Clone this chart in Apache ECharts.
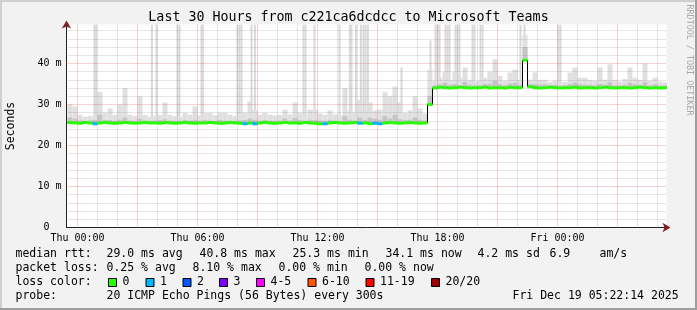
<!DOCTYPE html>
<html><head><meta charset="utf-8">
<script src="https://cdn.jsdelivr.net/npm/echarts@6/dist/echarts.min.js"></script>
<style>html,body{margin:0;padding:0;background:#f2f2f2}#c{width:697px;height:310px}</style>
</head><body><div id="c"></div><script>
// ---- data (hours relative to Thu 00:00) ----
const startHour = -0.5;
const binHours = 0.25;
const endHour = 29.45;
const median = [
 25.6,25.5,25.4,25.6,25.5,25.3,25.5,25.6,25.5,25.4,25.5,25.6,
 25.5,25.4,25.5,25.6,25.5,25.5,25.4,25.6,25.5,25.4,25.5,25.6,
 25.5,25.4,25.5,25.5,25.6,25.5,25.4,25.5,25.6,25.5,25.4,25.3,
 25.5,25.3,25.5,25.6,25.5,25.4,25.5,25.6,25.5,25.5,25.4,25.6,
 25.5,25.4,25.3,25.3,25.5,25.6,25.5,25.4,25.5,25.6,25.4,25.5,
 25.3,25.4,25.3,25.5,25.6,25.5,25.4,25.5,25.6,25.5,25.4,25.5,
 30.0,34.0,34.2,34.1,34.0,34.1,34.2,34.1,34.0,34.1,34.1,34.2,
 34.0,34.1,34.1,34.0,34.2,34.1,34.1,40.8,34.3,34.1,34.0,34.1,
 34.2,34.1,34.0,34.1,34.1,34.2,34.0,34.1,34.1,34.0,34.1,34.2,
 34.1,34.0,34.1,34.1,34.0,34.1,34.2,34.1,34.0,34.1,34.0,34.1
];
const lossCount = [
 0,0,0,0,0,1,0,0,0,0,0,0,
 0,0,0,0,0,0,0,0,0,0,0,0,
 0,0,0,0,0,0,0,0,0,0,0,1,
 0,1,0,0,0,0,0,0,0,0,0,0,
 0,0,0,1,0,0,0,0,0,0,1,0,
 0,1,1,0,0,0,0,0,0,0,0,0,
 0,0,0,0,0,0,0,0,0,0,0,0,
 0,0,0,0,0,0,0,0,0,0,0,0,
 0,0,0,0,0,0,0,0,0,0,0,0,
 0,0,0,0,0,0,0,0,0,0,0,0
];
const smokeMid = [
 26.8,26.5,26.1,26,26.1,26.2,27.5,26.2,26.2,26,26.3,26.8,
 26.1,26,26.5,26.1,26,26.1,26.2,26.4,26.1,26,26,26.2,
 26.1,26.3,26,26.2,26.1,26,26.2,26.1,26,26,26.1,26.2,
 26.6,26.3,26,26.2,26.1,26,26.1,26.6,26.1,26.7,26.2,26,
 26.3,26.2,26.1,26,26.2,26.1,26,27.2,26.3,26.1,26.8,26.2,
 26.8,26.5,26.3,27.2,26.6,27.5,26.4,26.2,26.3,26.8,26.3,26.1,
 32,34.7,34.9,35.3,34.8,35,34.7,35.5,34.8,34.6,34.7,34.9,
 35,35.8,35,34.7,35.1,35.3,34.8,44,34.9,35,34.8,34.9,
 34.7,34.8,34.6,34.7,35,35.3,34.9,34.8,34.8,34.7,35,34.8,
 35.4,34.7,34.6,34.8,35.3,34.9,34.8,35.4,34.7,34.9,34.6,34.6
];
const smokeHigh = [
 30,29.5,27.5,27,27.2,27.5,33,28,29,27.5,30,34,
 27.5,27.2,32,27.5,27,27.3,27.5,30.5,27.5,27.2,27,28,
 27.5,29.5,27.3,28,28,27.4,28,28,27.5,27.2,27.6,28,
 30.7,28.5,27.5,28,27.5,27.3,27.5,28.8,27.6,30.5,28,27.5,
 28.8,28.8,27.8,27.5,28.5,27.6,27.4,34,28.4,28,31,28.5,
 30.5,28.5,28.8,33,32,34.4,30.5,28,28.5,32,29,27.8,
 38.5,35.8,36.5,38,36,38,36.5,39,36,35.6,35.8,36.5,
 38,41,37,35.8,37.8,38.5,36,47,36,37.8,36,36,
 35.5,35.8,35.6,35.5,37.8,39,36.5,36.5,36,35.8,39,36,
 39.8,36,35.6,36.2,39,36.5,36,40,35.8,36.5,35.6,35.4
];
// single tall smoke spikes: [hour, top ms]
const spikes = [
 [0.85,49.5],[0.93,49.5],[1.1,33],[2.35,34],[3.72,49.5],[3.95,49.5],[5.0,49.5],[5.1,49.5],
 [6.2,49.5],[6.27,49.5],[8.0,49.5],[8.1,49.5],[8.2,49.5],[8.7,49.5],[8.87,49.5],
 [11.3,49.5],[11.4,49.5],[11.85,49.5],[13.1,49.5],[13.62,49.5],[13.7,49.5],[13.92,49.5],
 [14.17,49.5],[14.3,49.5],[14.4,49.5],[14.52,49.5],[16.2,39],[17.65,45.6],
 [17.9,49.5],[18.0,49.5],[18.1,49.5],[18.4,49.5],[18.5,49.5],[18.6,49.5],
 [18.9,49.5],[19.0,49.5],[19.1,49.5],[19.75,49.5],[19.85,49.5],[20.15,49.5],[20.25,49.5],
 [22.15,49.5],[22.35,49.5],[24.05,49.5],[24.15,49.5]
];
const xTickHours = [0,6,12,18,24];
const xTickLabels = ['Thu 00:00','Thu 06:00','Thu 12:00','Thu 18:00','Fri 00:00'];
const yTickValues = [0,10,20,30,40];
const yMax = 49.5;
const lossColors = ['#26ff00','#00b8ff','#0059ff','#7e00ff','#ff00ff','#ff5500','#ff0000','#a10000'];
const lossLabels = ['0','1','2','3','4-5','6-10','11-19','20/20'];
const titleText = 'Last 30 Hours from c221ca6dcdcc to Microsoft Teams';
const rttStats = ['29.0 ms avg','40.8 ms max','25.3 ms min','34.1 ms now','4.2 ms sd','6.9','am/s'];
const lossStats = ['0.25 % avg','8.10 % max','0.00 % min','0.00 % now'];
const probeText = '20 ICMP Echo Pings (56 Bytes) every 300s';
const dateText = 'Fri Dec 19 05:22:14 2025';

// ---- build ----
const FONT = '"DejaVu Sans Mono", monospace';
const binStart = median.map((_, i) => startHour + i * binHours);
function lossColorIndex(n){ if(n<=3) return n; if(n<=5) return 4; if(n<=10) return 5; if(n<=19) return 6; return 7; }
const GRID_MINOR = 'rgba(143,143,143,0.45)';
const GRID_MAJOR = 'rgba(222,79,79,0.5)';
const gridMarks = [];
for (let h = 0; h <= 29; h++) gridMarks.push({xAxis: h, lineStyle: {color: h % 3 === 0 ? GRID_MAJOR : GRID_MINOR}});
for (let v = 2; v <= 48; v += 2) gridMarks.push({yAxis: v, lineStyle: {color: v % 10 === 0 ? GRID_MAJOR : GRID_MINOR}});

const chart = echarts.init(document.getElementById('c'), null, {renderer: 'canvas'});

const txt = (x, y, t, extra) => Object.assign({type: 'text', x: x, y: y, silent: true,
  style: {text: t, fontFamily: FONT, fontSize: 11.5, fill: '#000', verticalAlign: 'middle'}}, extra || {});

const graphics = [
  {type:'rect', shape:{x:0,y:0,width:697,height:2}, style:{fill:'#cfcfcf'}, silent:true},
  {type:'rect', shape:{x:0,y:0,width:2,height:310}, style:{fill:'#cfcfcf'}, silent:true},
  {type:'rect', shape:{x:0,y:308,width:697,height:2}, style:{fill:'#9e9e9e'}, silent:true},
  {type:'rect', shape:{x:695,y:0,width:2,height:310}, style:{fill:'#9e9e9e'}, silent:true},
  {type:'text', x: 689.5, y: 60, rotation: -Math.PI/2, silent:true,
   style:{text:'RRDTOOL / TOBI OETIKER', fontFamily: FONT, fontSize: 8.4, fill:'#a8a8a8', align:'center', verticalAlign:'middle'}},
  txt(15.5, 254.5, 'median rtt:'),
  txt(15.5, 268.5, 'packet loss:'),
  txt(15.5, 282.5, 'loss color:'),
  txt(15.5, 296.5, 'probe:'),
  txt(106.5, 296.5, probeText),
  txt(512.5, 296.5, dateText)
];
const rttX = [106.5, 199.5, 292.5, 385.5, 477.5, 549.5, 599.5];
rttStats.forEach((t, i) => graphics.push(txt(rttX[i], 254.5, t)));
const lossX = [106.5, 192.5, 278.5, 364.5];
lossStats.forEach((t, i) => graphics.push(txt(lossX[i], 268.5, t)));
const boxX = [108, 145.5, 182.5, 219, 256, 307.5, 365.5, 431];
lossLabels.forEach((t, i) => {
  graphics.push({type:'rect', silent:true, shape:{x: boxX[i] + 0.5, y: 278.5, width: 8, height: 8},
    style:{fill: lossColors[i], stroke:'#000', lineWidth:1}});
  graphics.push(txt(boxX[i] + 14.5, 282.5, t));
});

chart.setOption({
  animation: false,
  backgroundColor: '#f2f2f2',
  title: {text: titleText, left: 'center', top: 11.5, padding: 0,
    textStyle: {fontFamily: FONT, fontSize: 13.3, fontWeight: 'normal', color: '#000'}},
  grid: {left: 66.5, top: 24.5, width: 600, height: 203, show: true, backgroundColor: '#ffffff', borderWidth: 0,
    containLabel: false, outerBoundsMode: 'none'},
  xAxis: [{
    type: 'value', min: startHour - 0.05, max: endHour,
    axisLine: {show: true, onZero: false, lineStyle: {color: '#1f1f1f', width: 1}},
    axisTick: {show: false}, splitLine: {show: false},
    axisLabel: {customValues: xTickHours, margin: 6, fontFamily: FONT, fontSize: 10, color: '#000',
      formatter: v => xTickLabels[xTickHours.indexOf(v)] || ''}
  }, {
    type: 'value', min: startHour - 0.05, max: endHour, position: 'bottom', offset: 0,
    axisLine: {show: true, onZero: false, symbol: ['none','arrow'], symbolSize: [7, 8], symbolOffset: [0, 4], lineStyle: {color: '#801f1f', width: 0}},
    axisTick: {show: false}, axisLabel: {show: false}, splitLine: {show: false}
  }],
  yAxis: [{
    type: 'value', min: 0, max: yMax,
    name: 'Seconds', nameLocation: 'middle', nameRotate: 90, nameGap: 49.5,
    nameTextStyle: {fontFamily: FONT, fontSize: 11.5, color: '#000'},
    axisLine: {show: true, onZero: false, lineStyle: {color: '#1f1f1f', width: 1}},
    axisTick: {show: false}, splitLine: {show: false},
    axisLabel: {customValues: yTickValues, margin: 5, fontFamily: FONT, fontSize: 10, color: '#000',
      formatter: v => v === 0 ? '0  ' : v + ' m'}
  }, {
    type: 'value', min: 0, max: yMax, position: 'left', offset: 0,
    axisLine: {show: true, onZero: false, symbol: ['none','arrow'], symbolSize: [7, 8], symbolOffset: [0, 4], lineStyle: {color: '#801f1f', width: 0}},
    axisTick: {show: false}, axisLabel: {show: false}, splitLine: {show: false}
  }],
  graphic: graphics,
  series: [
    {type: 'line', data: [], z: 1, silent: true,
     markLine: {silent: true, symbol: 'none', label: {show: false}, animation: false,
       lineStyle: {type: [1, 1], width: 1}, data: gridMarks}},
    {type: 'custom', z: 2, clip: true, silent: true, data: spikes,
     renderItem: (params, api) => {
       const h = api.value(0), top = api.value(1);
       const idx = Math.min(median.length - 1, Math.max(0, Math.floor((h - startHour) / binHours)));
       const p0 = api.coord([h, median[idx]]), p1 = api.coord([h, top]);
       return {type: 'rect', shape: {x: p0[0] - 1, y: p1[1], width: 2, height: p0[1] - p1[1]}, style: {fill: '#dadada'}};
     }},
    {type: 'custom', z: 3, clip: true, silent: true,
     data: binStart.map((h, i) => [h, median[i], smokeMid[i], smokeHigh[i]]),
     renderItem: (params, api) => {
       const h = api.value(0), m = api.value(1), mid = api.value(2), hi = api.value(3);
       const a = api.coord([h, m]), b = api.coord([h + binHours, hi]), c = api.coord([h + binHours, mid]);
       return {type: 'group', children: [
         {type: 'rect', shape: {x: a[0], y: b[1], width: b[0] - a[0], height: a[1] - b[1]}, style: {fill: '#e0e0e0'}},
         {type: 'rect', shape: {x: a[0], y: c[1], width: c[0] - a[0], height: a[1] - c[1]}, style: {fill: '#c4c4c4'}}
       ]};
     }},
    {type: 'line', z: 4, step: 'end', symbol: 'none', silent: true,
     data: binStart.map((h, i) => [h, median[i]]).concat([[startHour + median.length * binHours, median[median.length - 1]]]),
     lineStyle: {color: '#000', width: 1}},
    {type: 'custom', z: 5, clip: true, silent: true,
     data: binStart.map((h, i) => [h, median[i], lossCount[i]]),
     renderItem: (params, api) => {
       const h = api.value(0), m = api.value(1), n = api.value(2);
       const a = api.coord([h, m]), b = api.coord([h + binHours, m]);
       return {type: 'line', shape: {x1: a[0], y1: a[1], x2: b[0], y2: b[1]},
         style: {stroke: lossColors[lossColorIndex(n)], lineWidth: 3}};
     }}
  ]
});
</script></body></html>
